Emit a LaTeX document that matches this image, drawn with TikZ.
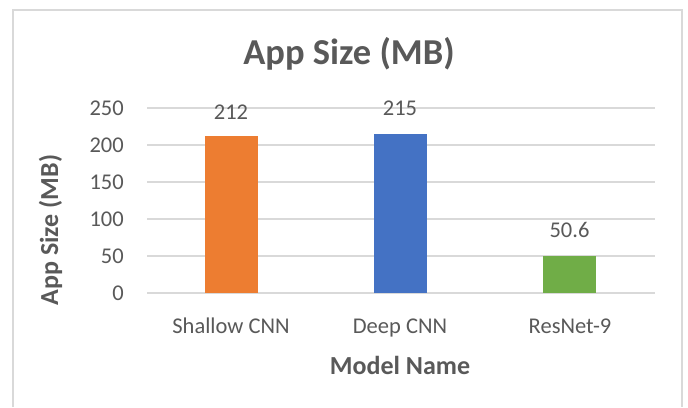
\documentclass[tikz,border=0pt]{standalone}
\usepackage{fontspec}
\setmainfont{Carlito}
\definecolor{txt}{HTML}{595959}
\definecolor{grid}{HTML}{D9D9D9}
\definecolor{barA}{HTML}{ED7D31}
\definecolor{barB}{HTML}{4472C4}
\definecolor{barC}{HTML}{70AD47}
\tikzset{
  gridline/.style={draw=grid, line width=1.6pt},
  ticklbl/.style={text=txt, font=\fontsize{22.5}{24}\selectfont, anchor=base east, inner sep=0pt},
  catlbl/.style={text=txt, font=\fontsize{22.5}{24}\selectfont, anchor=base, inner sep=0pt},
  vallbl/.style={text=txt, font=\fontsize{22.5}{24}\selectfont, anchor=base, inner sep=0pt},
  axtitle/.style={text=txt, font=\fontsize{26}{28}\selectfont\bfseries, anchor=base, inner sep=0pt},
  charttitle/.style={text=txt, font=\fontsize{36.5}{40}\selectfont\bfseries, anchor=base, inner sep=0pt},
  bar/.style={fill=#1, draw=none}
}
\begin{document}
\begin{tikzpicture}[x=1pt,y=-1pt]
  % canvas
  \useasboundingbox (0,0) rectangle (688,407);
  \fill[white] (0,0) rectangle (688,407);
  % chart frame (open at the bottom edge)
  \draw[draw=grid, line width=2.2pt] (13,407) -- (13,10) -- (682,10) -- (682,407);

  % value scale: y(v) = 293 - 0.74 v
  \foreach \v in {0,50,...,250} {
    \pgfmathsetmacro{\yy}{293-0.74*\v}
    \draw[gridline] (147,\yy) -- (655,\yy);
    \node[ticklbl] (t\v) at (124,\yy+7.1) {\v};
  }

  % bars
  \fill[bar=barA] (204.5,293) rectangle (257.5,{293-0.74*212});
  \fill[bar=barB] (373.5,293) rectangle (426.5,{293-0.74*215});
  \fill[bar=barC] (543,293) rectangle (596,{293-0.74*50.6});

  % data labels
  \node[vallbl] (v1) at (231,119.1) {212};
  \node[vallbl] (v2) at (400,115.1) {215};
  \node[vallbl] (v3) at (569.5,237.6) {50.6};

  % category labels
  \node[catlbl] (c1) at (231,333) {Shallow CNN};
  \node[catlbl] (c2) at (400,333) {Deep CNN};
  \node[catlbl] (c3) at (570,333) {ResNet-9};

  % titles
  \node[charttitle] (title) at (349,64) {App Size (MB)};
  \node[axtitle] (xt) at (400,374.5) {Model Name};
  \node[axtitle, rotate=90] (yt) at (58,230) {App Size (MB)};
\end{tikzpicture}
\end{document}
